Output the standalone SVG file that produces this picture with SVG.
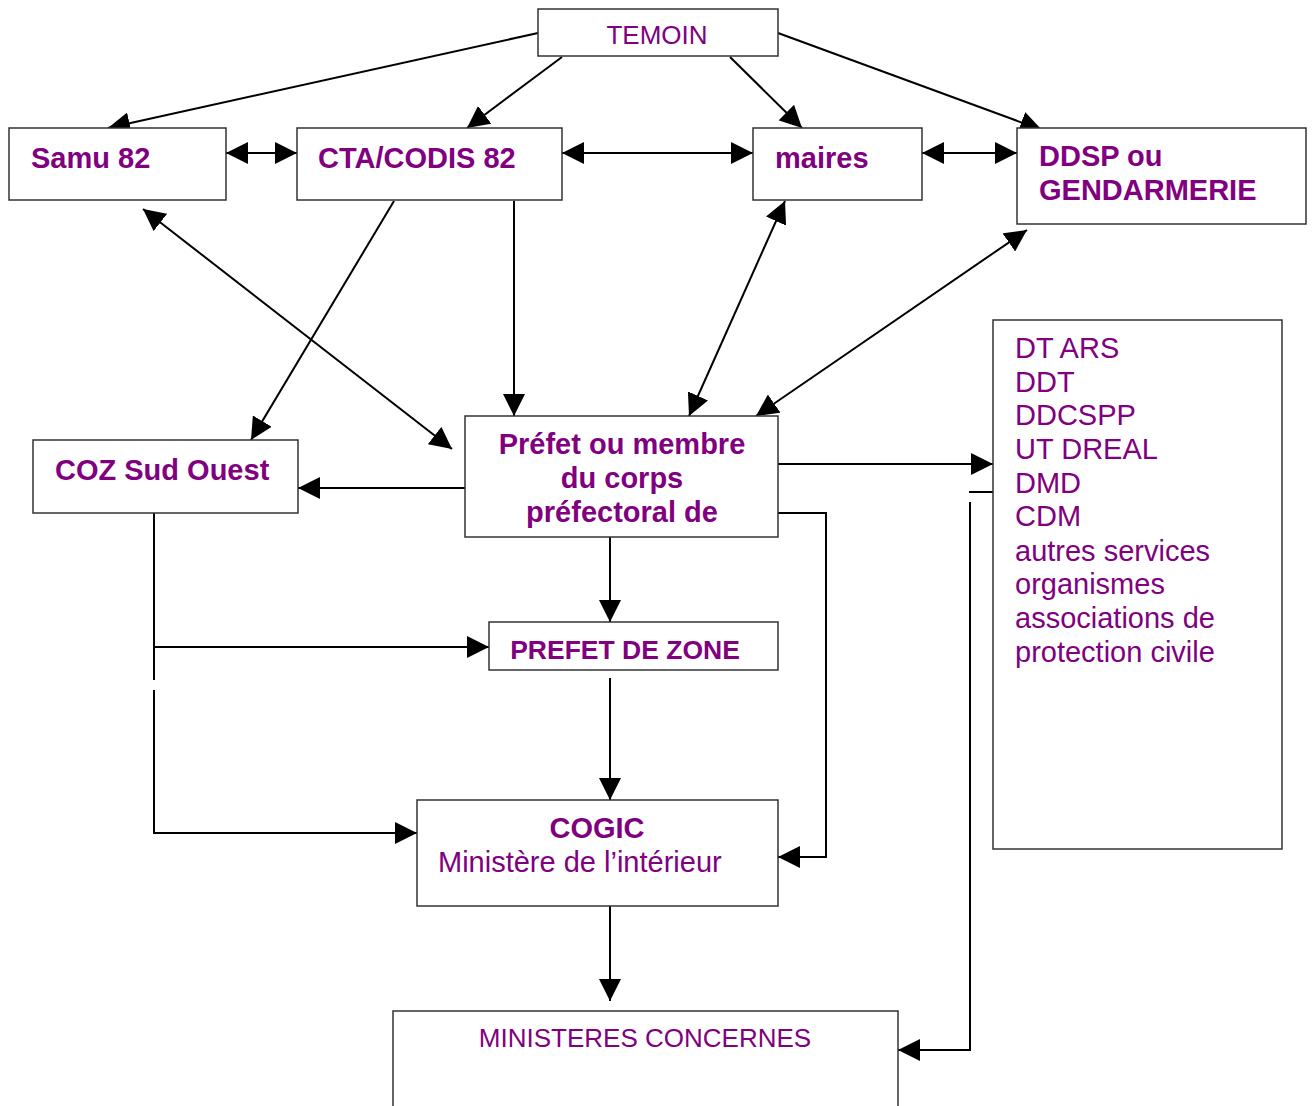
<svg xmlns="http://www.w3.org/2000/svg" width="1316" height="1106" viewBox="0 0 1316 1106">
<style>
.box{fill:#fff;stroke:#333;stroke-width:1.5}
.t{font-family:"Liberation Sans",Arial,sans-serif;fill:#800080;font-size:29px}
.b{font-weight:bold}
.s{font-size:26px}
.c{stroke:#000;stroke-width:2;fill:none}
</style>
<defs>
<marker id="ah" markerUnits="userSpaceOnUse" markerWidth="22" markerHeight="22" viewBox="0 0 22 22" refX="22" refY="11" orient="auto-start-reverse">
<path d="M0,0 L22,11 L0,22 z" fill="#000"/>
</marker>
</defs>
<rect width="1316" height="1106" fill="#fff"/>
<g id="connectors">
<line class="c" x1="538" y1="33" x2="108" y2="128" marker-end="url(#ah)"/>
<line class="c" x1="562" y1="57" x2="467" y2="128" marker-end="url(#ah)"/>
<line class="c" x1="730" y1="57" x2="802" y2="128" marker-end="url(#ah)"/>
<line class="c" x1="778" y1="33" x2="1042" y2="130" marker-end="url(#ah)"/>
<line class="c" x1="226" y1="153" x2="297" y2="153" marker-start="url(#ah)" marker-end="url(#ah)"/>
<line class="c" x1="562" y1="153" x2="753" y2="153" marker-start="url(#ah)" marker-end="url(#ah)"/>
<line class="c" x1="922" y1="153" x2="1017" y2="153" marker-start="url(#ah)" marker-end="url(#ah)"/>
<line class="c" x1="143" y1="209" x2="452" y2="449" marker-start="url(#ah)" marker-end="url(#ah)"/>
<line class="c" x1="394" y1="201" x2="251" y2="440" marker-end="url(#ah)"/>
<line class="c" x1="514" y1="201" x2="514" y2="416" marker-end="url(#ah)"/>
<line class="c" x1="785" y1="201" x2="689" y2="416" marker-start="url(#ah)" marker-end="url(#ah)"/>
<line class="c" x1="1027" y1="230" x2="756" y2="416" marker-start="url(#ah)" marker-end="url(#ah)"/>
<line class="c" x1="465" y1="488" x2="298" y2="488" marker-end="url(#ah)"/>
<line class="c" x1="778" y1="464" x2="993" y2="464" marker-end="url(#ah)"/>
<polyline class="c" points="778,513 826,513 826,857 778,857" marker-end="url(#ah)"/>
<line class="c" x1="610" y1="537" x2="610" y2="622" marker-end="url(#ah)"/>
<line class="c" x1="610" y1="678" x2="610" y2="800" marker-end="url(#ah)"/>
<line class="c" x1="610" y1="906" x2="610" y2="1001" marker-end="url(#ah)"/>
<line class="c" x1="154" y1="513" x2="154" y2="680"/>
<line class="c" x1="154" y1="647" x2="489" y2="647" marker-end="url(#ah)"/>
<polyline class="c" points="154,690 154,833 417,833" marker-end="url(#ah)"/>
<line class="c" x1="969" y1="492" x2="996" y2="492"/>
<polyline class="c" points="970,502 970,1050 898,1050" marker-end="url(#ah)"/>
</g>
<g id="temoin"><rect class="box" x="538" y="9" width="240" height="47"/><text class="t s" x="657" y="44" text-anchor="middle">TEMOIN</text></g>
<g id="samu"><rect class="box" x="9" y="128" width="217" height="72"/><text class="t b" x="31" y="168">Samu 82</text></g>
<g id="cta"><rect class="box" x="297" y="128" width="265" height="72"/><text class="t b" x="318" y="168">CTA/CODIS 82</text></g>
<g id="maires"><rect class="box" x="753" y="128" width="169" height="72"/><text class="t b" x="775" y="168">maires</text></g>
<g id="ddsp"><rect class="box" x="1017" y="128" width="289" height="96"/><text class="t b" x="1039" y="166">DDSP ou</text><text class="t b" x="1039" y="200">GENDARMERIE</text></g>
<g id="services"><rect class="box" x="993" y="320" width="289" height="529"/>
<text class="t" x="1015" y="358">DT ARS</text>
<text class="t" x="1015" y="392">DDT</text>
<text class="t" x="1015" y="425">DDCSPP</text>
<text class="t" x="1015" y="459">UT DREAL</text>
<text class="t" x="1015" y="493">DMD</text>
<text class="t" x="1015" y="526">CDM</text>
<text class="t" x="1015" y="561">autres services</text>
<text class="t" x="1015" y="594">organismes</text>
<text class="t" x="1015" y="628">associations de</text>
<text class="t" x="1015" y="662">protection civile</text>
</g>
<g id="coz"><rect class="box" x="33" y="440" width="265" height="73"/><text class="t b" x="55" y="480">COZ Sud Ouest</text></g>
<g id="prefet"><rect class="box" x="465" y="416" width="313" height="121"/>
<text class="t b" x="622" y="454" text-anchor="middle">Préfet ou membre</text>
<text class="t b" x="622" y="488" text-anchor="middle">du corps</text>
<text class="t b" x="622" y="522" text-anchor="middle">préfectoral de</text>
</g>
<g id="prefet-zone"><rect class="box" x="489" y="622" width="289" height="48"/><text class="t b" x="625" y="659" text-anchor="middle" style="font-size:26.5px">PREFET DE ZONE</text></g>
<g id="cogic"><rect class="box" x="417" y="800" width="361" height="106"/>
<text class="t b" x="597" y="838" text-anchor="middle">COGIC</text>
<text class="t" x="438" y="872">Ministère de l’intérieur</text>
</g>
<g id="ministeres"><rect class="box" x="393" y="1011" width="505" height="110"/><text class="t s" x="645" y="1047" text-anchor="middle">MINISTERES CONCERNES</text></g>
</svg>
